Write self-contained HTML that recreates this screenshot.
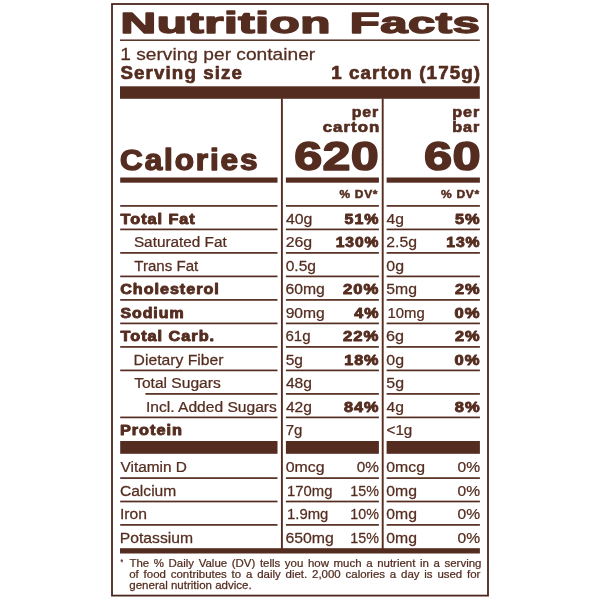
<!DOCTYPE html>
<html><head><meta charset="utf-8"><title>Nutrition Facts</title>
<style>
html,body{margin:0;padding:0;background:#fff;}
body{width:600px;height:600px;overflow:hidden;font-family:"Liberation Sans",sans-serif;}
svg{display:block;filter:opacity(0.9999);will-change:transform;}
text{font-family:"Liberation Sans",sans-serif;fill:#552d20;}
.b{font-weight:bold;}
.s{stroke:#552d20;stroke-linejoin:round;}
</style></head>
<body>
<svg width="600" height="600" viewBox="0 0 600 600">
<rect x="0" y="0" width="600" height="600" fill="#ffffff"/>
<rect x="112" y="4" width="376" height="591.6" fill="none" stroke="#4a261b" stroke-width="1.8"/>
<g fill="#552d20">
<rect x="120.00" y="39.45" width="359.80" height="1.50"/>
<rect x="120.00" y="86.30" width="359.80" height="12.50"/>
<rect x="120.20" y="177.50" width="157.30" height="5.20"/>
<rect x="120.20" y="205.05" width="157.30" height="1.70"/>
<rect x="120.20" y="228.55" width="157.30" height="1.70"/>
<rect x="120.20" y="252.05" width="157.30" height="1.70"/>
<rect x="120.20" y="275.55" width="157.30" height="1.70"/>
<rect x="120.20" y="299.05" width="157.30" height="1.70"/>
<rect x="120.20" y="322.55" width="157.30" height="1.70"/>
<rect x="120.20" y="346.05" width="157.30" height="1.70"/>
<rect x="120.20" y="369.55" width="157.30" height="1.70"/>
<rect x="145.40" y="393.05" width="132.10" height="1.70"/>
<rect x="120.20" y="416.55" width="157.30" height="1.70"/>
<rect x="120.20" y="441.00" width="157.30" height="12.80"/>
<rect x="120.20" y="477.25" width="157.30" height="1.70"/>
<rect x="120.20" y="500.65" width="157.30" height="1.70"/>
<rect x="120.20" y="524.05" width="157.30" height="1.70"/>
<rect x="285.90" y="177.50" width="93.00" height="5.20"/>
<rect x="285.90" y="205.05" width="93.00" height="1.70"/>
<rect x="285.90" y="228.55" width="93.00" height="1.70"/>
<rect x="285.90" y="252.05" width="93.00" height="1.70"/>
<rect x="285.90" y="275.55" width="93.00" height="1.70"/>
<rect x="285.90" y="299.05" width="93.00" height="1.70"/>
<rect x="285.90" y="322.55" width="93.00" height="1.70"/>
<rect x="285.90" y="346.05" width="93.00" height="1.70"/>
<rect x="285.90" y="369.55" width="93.00" height="1.70"/>
<rect x="285.90" y="393.05" width="93.00" height="1.70"/>
<rect x="285.90" y="416.55" width="93.00" height="1.70"/>
<rect x="285.90" y="441.00" width="93.00" height="12.80"/>
<rect x="285.90" y="477.25" width="93.00" height="1.70"/>
<rect x="285.90" y="500.65" width="93.00" height="1.70"/>
<rect x="285.90" y="524.05" width="93.00" height="1.70"/>
<rect x="386.60" y="177.50" width="93.30" height="5.20"/>
<rect x="386.60" y="205.05" width="93.30" height="1.70"/>
<rect x="386.60" y="228.55" width="93.30" height="1.70"/>
<rect x="386.60" y="252.05" width="93.30" height="1.70"/>
<rect x="386.60" y="275.55" width="93.30" height="1.70"/>
<rect x="386.60" y="299.05" width="93.30" height="1.70"/>
<rect x="386.60" y="322.55" width="93.30" height="1.70"/>
<rect x="386.60" y="346.05" width="93.30" height="1.70"/>
<rect x="386.60" y="369.55" width="93.30" height="1.70"/>
<rect x="386.60" y="393.05" width="93.30" height="1.70"/>
<rect x="386.60" y="416.55" width="93.30" height="1.70"/>
<rect x="386.60" y="441.00" width="93.30" height="12.80"/>
<rect x="386.60" y="477.25" width="93.30" height="1.70"/>
<rect x="386.60" y="500.65" width="93.30" height="1.70"/>
<rect x="386.60" y="524.05" width="93.30" height="1.70"/>
<rect x="120.00" y="548.20" width="359.90" height="5.30"/>
<rect x="280.95" y="98.50" width="1.90" height="452.50"/>
<rect x="381.75" y="98.50" width="1.90" height="452.50"/>
</g>
<text class="b s" transform="matrix(1.7175 0 0 1 120.45 32.90)" font-size="28.80" stroke-width="1.40" letter-spacing="0.288">Nutrition</text>
<text class="b s" transform="matrix(1.7017 0 0 1 349.87 32.90)" font-size="28.80" stroke-width="1.40" letter-spacing="0.288">Facts</text>
<text class="s" transform="matrix(1.1552 0 0 1 120.26 60.00)" font-size="16.60" stroke-width="0.25">1 serving per container</text>
<text class="b s" transform="matrix(1.0233 0 0 1 120.44 78.80)" font-size="18.30" stroke-width="0.70" letter-spacing="1.098">Serving size</text>
<text class="b s" transform="matrix(1.0236 0 0 1 331.13 78.80)" font-size="18.30" stroke-width="0.70" letter-spacing="1.098">1 carton (175g)</text>
<text class="b s" transform="matrix(1.0505 0 0 1 351.71 116.90)" font-size="15.10" stroke-width="0.65" letter-spacing="0.906">per</text>
<text class="b s" transform="matrix(1.1385 0 0 1 322.72 132.00)" font-size="14.80" stroke-width="0.65" letter-spacing="0.888">carton</text>
<text class="b s" transform="matrix(1.0707 0 0 1 452.20 116.90)" font-size="15.10" stroke-width="0.65" letter-spacing="0.906">per</text>
<text class="b s" transform="matrix(1.0928 0 0 1 452.18 131.90)" font-size="14.80" stroke-width="0.65" letter-spacing="0.888">bar</text>
<text class="b s" transform="matrix(1.0934 0 0 1 120.05 169.70)" font-size="28.80" stroke-width="1.40" letter-spacing="1.728">Calories</text>
<text class="b s" transform="matrix(1.2565 0 0 1 294.36 169.60)" font-size="40.00" stroke-width="1.60" letter-spacing="0.200">620</text>
<text class="b s" transform="matrix(1.2628 0 0 1 424.05 169.60)" font-size="40.00" stroke-width="1.60" letter-spacing="0.200">60</text>
<text class="b s" transform="matrix(1.1725 0 0 1 339.40 198.30)" font-size="10.20" stroke-width="0.45" letter-spacing="0.612">% DV*</text>
<text class="b s" transform="matrix(1.1786 0 0 1 441.00 198.30)" font-size="10.20" stroke-width="0.45" letter-spacing="0.612">% DV*</text>
<text class="b s" transform="matrix(1.1764 0 0 1 120.59 223.70)" font-size="13.80" stroke-width="0.85" letter-spacing="0.828">Total Fat</text>
<text class="s" transform="matrix(1.0232 0 0 1 133.89 247.20)" font-size="15.00" stroke-width="0.25">Saturated Fat</text>
<text class="s" transform="matrix(1.0047 0 0 1 134.35 270.70)" font-size="15.00" stroke-width="0.25">Trans Fat</text>
<text class="b s" transform="matrix(1.1712 0 0 1 120.21 294.20)" font-size="13.80" stroke-width="0.85" letter-spacing="0.828">Cholesterol</text>
<text class="b s" transform="matrix(1.1521 0 0 1 120.50 317.70)" font-size="13.80" stroke-width="0.85" letter-spacing="0.828">Sodium</text>
<text class="b s" transform="matrix(1.1797 0 0 1 120.59 341.20)" font-size="13.80" stroke-width="0.85" letter-spacing="0.828">Total Carb.</text>
<text class="s" transform="matrix(1.0478 0 0 1 133.55 364.70)" font-size="15.00" stroke-width="0.25">Dietary Fiber</text>
<text class="s" transform="matrix(1.0393 0 0 1 134.14 388.20)" font-size="15.00" stroke-width="0.25">Total Sugars</text>
<text class="s" transform="matrix(1.0406 0 0 1 145.90 411.70)" font-size="15.00" stroke-width="0.25">Incl. Added Sugars</text>
<text class="b s" transform="matrix(1.1825 0 0 1 119.91 435.20)" font-size="13.80" stroke-width="0.85" letter-spacing="0.828">Protein</text>
<text class="s" transform="matrix(1.0272 0 0 1 120.50 472.30)" font-size="15.00" stroke-width="0.25">Vitamin D</text>
<text class="s" transform="matrix(1.0419 0 0 1 119.92 495.60)" font-size="15.00" stroke-width="0.25">Calcium</text>
<text class="s" transform="matrix(1.0442 0 0 1 119.89 519.00)" font-size="15.00" stroke-width="0.25">Iron</text>
<text class="s" transform="matrix(1.0476 0 0 1 119.75 542.90)" font-size="15.00" stroke-width="0.25">Potassium</text>
<text class="s" transform="matrix(1.0583 0 0 1 285.94 223.70)" font-size="15.00" stroke-width="0.25">40g</text>
<text class="s" transform="matrix(1.0611 0 0 1 285.67 247.20)" font-size="15.00" stroke-width="0.25">26g</text>
<text class="s" transform="matrix(1.0378 0 0 1 285.68 270.70)" font-size="15.00" stroke-width="0.25">0.5g</text>
<text class="s" transform="matrix(1.0500 0 0 1 285.41 294.20)" font-size="15.00" stroke-width="0.25">60mg</text>
<text class="s" transform="matrix(1.0428 0 0 1 285.68 317.70)" font-size="15.00" stroke-width="0.25">90mg</text>
<text class="s" transform="matrix(1.0043 0 0 1 285.45 341.20)" font-size="15.00" stroke-width="0.25">61g</text>
<text class="s" transform="matrix(1.0361 0 0 1 285.68 364.70)" font-size="15.00" stroke-width="0.25">5g</text>
<text class="s" transform="matrix(1.0417 0 0 1 285.94 388.20)" font-size="15.00" stroke-width="0.25">48g</text>
<text class="s" transform="matrix(1.0417 0 0 1 285.94 411.70)" font-size="15.00" stroke-width="0.25">42g</text>
<text class="s" transform="matrix(1.0000 0 0 1 285.65 435.20)" font-size="15.00" stroke-width="0.25">7g</text>
<text class="b s" transform="matrix(1.1556 0 0 1 344.60 223.70)" font-size="13.80" stroke-width="0.85" letter-spacing="0.828">51%</text>
<text class="b s" transform="matrix(1.1329 0 0 1 335.63 247.20)" font-size="13.80" stroke-width="0.85" letter-spacing="0.828">130%</text>
<text class="b s" transform="matrix(1.2103 0 0 1 343.00 294.20)" font-size="13.80" stroke-width="0.85" letter-spacing="0.828">20%</text>
<text class="b s" transform="matrix(1.1619 0 0 1 354.29 317.70)" font-size="13.80" stroke-width="0.85" letter-spacing="0.828">4%</text>
<text class="b s" transform="matrix(1.2103 0 0 1 343.00 341.20)" font-size="13.80" stroke-width="0.85" letter-spacing="0.828">22%</text>
<text class="b s" transform="matrix(1.1687 0 0 1 344.22 364.70)" font-size="13.80" stroke-width="0.85" letter-spacing="0.828">18%</text>
<text class="b s" transform="matrix(1.1761 0 0 1 344.00 411.70)" font-size="13.80" stroke-width="0.85" letter-spacing="0.828">84%</text>
<text class="s" transform="matrix(1.0610 0 0 1 285.67 472.30)" font-size="15.00" stroke-width="0.25">0mcg</text>
<text class="s" transform="matrix(1.0217 0 0 1 356.69 472.30)" font-size="15.00" stroke-width="0.25">0%</text>
<text class="s" transform="matrix(0.9909 0 0 1 287.01 495.60)" font-size="15.00" stroke-width="0.25">170mg</text>
<text class="s" transform="matrix(0.9544 0 0 1 350.25 495.60)" font-size="15.00" stroke-width="0.25">15%</text>
<text class="s" transform="matrix(0.9912 0 0 1 287.01 519.00)" font-size="15.00" stroke-width="0.25">1.9mg</text>
<text class="s" transform="matrix(0.9544 0 0 1 350.25 519.00)" font-size="15.00" stroke-width="0.25">10%</text>
<text class="s" transform="matrix(1.0576 0 0 1 285.41 542.90)" font-size="15.00" stroke-width="0.25">650mg</text>
<text class="s" transform="matrix(0.9544 0 0 1 350.25 542.90)" font-size="15.00" stroke-width="0.25">15%</text>
<text class="s" transform="matrix(1.0452 0 0 1 386.54 223.70)" font-size="15.00" stroke-width="0.25">4g</text>
<text class="s" transform="matrix(1.0523 0 0 1 386.27 247.20)" font-size="15.00" stroke-width="0.25">2.5g</text>
<text class="s" transform="matrix(1.0623 0 0 1 386.27 270.70)" font-size="15.00" stroke-width="0.25">0g</text>
<text class="s" transform="matrix(1.0523 0 0 1 386.27 294.20)" font-size="15.00" stroke-width="0.25">5mg</text>
<text class="s" transform="matrix(0.9902 0 0 1 387.61 317.70)" font-size="15.00" stroke-width="0.25">10mg</text>
<text class="s" transform="matrix(1.0800 0 0 1 385.99 341.20)" font-size="15.00" stroke-width="0.25">6g</text>
<text class="s" transform="matrix(1.0623 0 0 1 386.27 364.70)" font-size="15.00" stroke-width="0.25">0g</text>
<text class="s" transform="matrix(1.0623 0 0 1 386.27 388.20)" font-size="15.00" stroke-width="0.25">5g</text>
<text class="s" transform="matrix(1.0452 0 0 1 386.54 411.70)" font-size="15.00" stroke-width="0.25">4g</text>
<text class="s" transform="matrix(1.0167 0 0 1 386.49 435.20)" font-size="15.00" stroke-width="0.25">&lt;1g</text>
<text class="b s" transform="matrix(1.1855 0 0 1 455.00 223.70)" font-size="13.80" stroke-width="0.85" letter-spacing="0.828">5%</text>
<text class="b s" transform="matrix(1.1409 0 0 1 446.23 247.20)" font-size="13.80" stroke-width="0.85" letter-spacing="0.828">13%</text>
<text class="b s" transform="matrix(1.1855 0 0 1 455.00 294.20)" font-size="13.80" stroke-width="0.85" letter-spacing="0.828">2%</text>
<text class="b s" transform="matrix(1.2048 0 0 1 454.60 317.70)" font-size="13.80" stroke-width="0.85" letter-spacing="0.828">0%</text>
<text class="b s" transform="matrix(1.1855 0 0 1 455.00 341.20)" font-size="13.80" stroke-width="0.85" letter-spacing="0.828">2%</text>
<text class="b s" transform="matrix(1.2048 0 0 1 454.60 364.70)" font-size="13.80" stroke-width="0.85" letter-spacing="0.828">0%</text>
<text class="b s" transform="matrix(1.1952 0 0 1 454.80 411.70)" font-size="13.80" stroke-width="0.85" letter-spacing="0.828">8%</text>
<text class="s" transform="matrix(1.0553 0 0 1 386.27 472.30)" font-size="15.00" stroke-width="0.25">0mcg</text>
<text class="s" transform="matrix(1.0410 0 0 1 457.48 472.30)" font-size="15.00" stroke-width="0.25">0%</text>
<text class="s" transform="matrix(1.0523 0 0 1 386.27 495.60)" font-size="15.00" stroke-width="0.25">0mg</text>
<text class="s" transform="matrix(1.0410 0 0 1 457.48 495.60)" font-size="15.00" stroke-width="0.25">0%</text>
<text class="s" transform="matrix(1.0523 0 0 1 386.27 519.00)" font-size="15.00" stroke-width="0.25">0mg</text>
<text class="s" transform="matrix(1.0410 0 0 1 457.48 519.00)" font-size="15.00" stroke-width="0.25">0%</text>
<text class="s" transform="matrix(1.0523 0 0 1 386.27 542.90)" font-size="15.00" stroke-width="0.25">0mg</text>
<text class="s" transform="matrix(1.0410 0 0 1 457.48 542.90)" font-size="15.00" stroke-width="0.25">0%</text>
<text class="s" transform="matrix(0.7429 0 0 1 120.50 565.40)" font-size="9.00" stroke-width="0.25">*</text>
<text class="s" transform="matrix(0.9800 0 0 1 129.45 566.80)" font-size="11.70" stroke-width="0.25" word-spacing="1.447">The % Daily Value (DV) tells you how much a nutrient in a serving</text>
<text class="s" transform="matrix(0.9800 0 0 1 129.25 578.00)" font-size="11.70" stroke-width="0.25" word-spacing="1.662">of food contributes to a daily diet. 2,000 calories a day is used for</text>
<text class="s" transform="matrix(0.9870 0 0 1 129.25 589.20)" font-size="11.70" stroke-width="0.25">general nutrition advice.</text>
</svg>
</body></html>
